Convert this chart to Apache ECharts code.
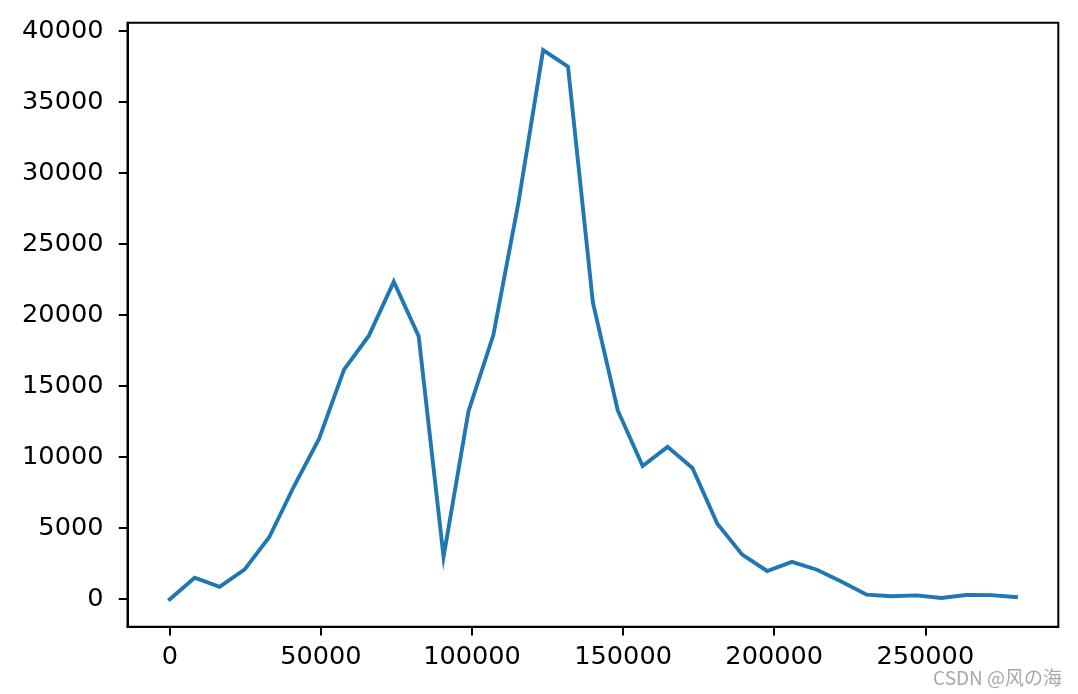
<!DOCTYPE html>
<html>
<head>
<meta charset="utf-8">
<script src="https://cdn.jsdelivr.net/npm/echarts@6/dist/echarts.min.js"></script>
<style>
html,body{margin:0;padding:0;background:#fff;}
#chart{width:1078px;height:694px;}
</style>
</head>
<body>
<div id="chart"></div>
<script>
var xValues = [0, 8235, 16470, 24705, 32940, 41175, 49410, 57645, 65880, 74115,
  82350, 90585, 98820, 107055, 115290, 123525, 131760, 139995, 148230, 156465,
  164700, 172935, 181170, 189405, 197640, 205875, 214110, 222345, 230580, 238815,
  247050, 255285, 263520, 271755, 279990];
var yValues = [0, 1520, 870, 2090, 4380, 7990, 11300, 16170, 18560, 22360,
  18520, 2980, 13220, 18600, 27830, 38660, 37500, 20900, 13290, 9380,
  10730, 9240, 5320, 3140, 1990, 2630, 2080, 1230, 320, 210,
  270, 90, 300, 290, 150];
var xTicks = [0, 50000, 100000, 150000, 200000, 250000];
var yTicks = [0, 5000, 10000, 15000, 20000, 25000, 30000, 35000, 40000];
var watermark = 'CSDN @风の海';

var data = xValues.map(function (x, i) { return [x, yValues[i]]; });
var chart = echarts.init(document.getElementById('chart'), null, {renderer: 'canvas'});
var font = 'DejaVu Sans';
chart.setOption({
  animation: false,
  backgroundColor: '#ffffff',
  grid: {
    left: 127.5, right: 19.7, top: 22.7, bottom: 67.3,
    show: true, borderColor: '#000', borderWidth: 2, backgroundColor: 'transparent'
  },
  xAxis: {
    type: 'value',
    min: -14000, max: 294000,
    axisLine: {show: true, onZero: false, lineStyle: {color: '#000', width: 2}},
    axisTick: {show: true, length: 8.75, lineStyle: {color: '#000', width: 2}, customValues: xTicks},
    axisLabel: {show: true, margin: 18, color: '#000', fontFamily: font, fontSize: 25.6,
      customValues: xTicks, formatter: function (v) { return String(v); }},
    splitLine: {show: false}
  },
  yAxis: {
    type: 'value',
    min: -1933, max: 40593,
    axisLine: {show: true, onZero: false, lineStyle: {color: '#000', width: 2}},
    axisTick: {show: true, length: 8.75, lineStyle: {color: '#000', width: 2}, customValues: yTicks},
    axisLabel: {show: true, margin: 24, color: '#000', fontFamily: font, fontSize: 25.6,
      customValues: yTicks, formatter: function (v) { return String(v); }},
    splitLine: {show: false}
  },
  series: [{
    type: 'line',
    data: data,
    showSymbol: false,
    symbol: 'none',
    lineStyle: {color: '#1f77b4', width: 3.9, join: 'miter', cap: 'square'},
    itemStyle: {color: '#1f77b4'}
  }],
  graphic: [{
    type: 'text',
    right: 16, bottom: 7,
    style: {text: watermark, fill: '#a8a8a8', font: '19px "Noto Sans CJK SC", sans-serif'}
  }]
});
</script>
</body>
</html>
